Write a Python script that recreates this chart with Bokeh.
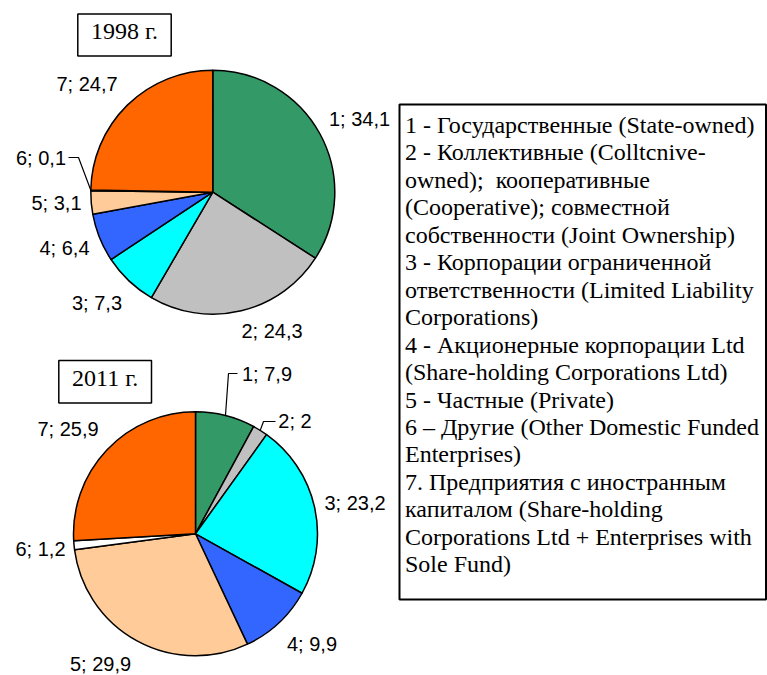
import numpy as np
from bokeh.plotting import figure
from bokeh.models import Range1d, ColumnDataSource
from bokeh.core.properties import value
from bokeh.embed import file_html
from bokeh.resources import INLINE

# ---- data ----
categories = ["1", "2", "3", "4", "5", "6", "7"]
values_1998 = [34.1, 24.3, 7.3, 6.4, 3.1, 0.1, 24.7]
values_2011 = [7.9, 2.0, 23.2, 9.9, 29.9, 1.2, 25.9]
titles = ["1998 г.", "2011 г."]
colors = ["#339966", "#C0C0C0", "#00FFFF", "#3366FF", "#FFCC99", "#FFFFFF", "#FF6600"]
legend_lines = [
    "1 - Государственные (State-owned)",
    "2 - Коллективные (Colltcnive-",
    "owned);\u00a0 кооперативные",
    "(Cooperative); совместной",
    "собственности (Joint Ownership)",
    "3 - Корпорации ограниченной",
    "ответственности (Limited Liability",
    "Corporations)",
    "4 - Акционерные корпорации Ltd",
    "(Share-holding Corporations Ltd)",
    "5 - Частные (Private)",
    "6 – Другие (Other Domestic Funded",
    "Enterprises)",
    "7. Предприятия с иностранным",
    "капиталом (Share-holding",
    "Corporations Ltd + Enterprises with",
    "Sole Fund)",
]

# ---- layout (image pixel coordinates; y measured from top) ----
W, H = 767, 675
def fy(y):
    return H - np.asarray(y, dtype=float)

R = 122
centers = [(212.3, 191.7), (195.0, 533.3)]
label_pos = [
    [(359, 118), (271.5, 330), (96.5, 302), (64, 247), (56, 202), (40.5, 157), (86.5, 83)],
    [(266.5, 373), (294.5, 420), (354.5, 502), (311.5, 643), (100, 663), (40, 548), (67.5, 428)],
]
# leader lines: (pie index, slice index, [elbow points in image coords])
leaders = [
    (0, 5, [(68, 157), (78, 157)]),
    (1, 0, [(237, 373), (228, 373)]),
    (1, 1, [(275, 421), (263, 421)]),
]
title_boxes = [(77.3, 170.7, 13.5, 55.5), (58.3, 151.0, 360.0, 402.5)]

SERIF = value("Liberation Serif")
SANS = value("Liberation Sans")

p = figure(width=W, height=H, x_range=Range1d(0, W), y_range=Range1d(0, H),
           output_backend="svg", toolbar_location=None, min_border=0,
           x_axis_location=None, y_axis_location=None)
p.grid.visible = False
p.outline_line_color = None
p.background_fill_color = "white"
p.border_fill_color = "white"

all_vals = [values_1998, values_2011]
mid_angles = []
for k, vals in enumerate(all_vals):
    v = np.array(vals, dtype=float)
    frac = v / v.sum()
    cum = np.concatenate([[0.0], np.cumsum(frac)])
    start = np.pi / 2 - 2 * np.pi * cum[:-1]
    end = np.pi / 2 - 2 * np.pi * cum[1:]
    mid_angles.append(np.pi / 2 - 2 * np.pi * (cum[:-1] + frac / 2))
    cx, cy = centers[k]
    src = ColumnDataSource(dict(x=[cx] * len(v), y=[fy(cy)] * len(v),
                                start=start, end=end, color=colors))
    p.wedge(x="x", y="y", radius=R, start_angle="start", end_angle="end",
            direction="clock", fill_color="color", line_color="black",
            line_width=1.5, source=src)
    labels = [f"{c}; {('%g' % val).replace('.', ',')}" for c, val in zip(categories, vals)]
    lx = [pt[0] for pt in label_pos[k]]
    ly = fy([pt[1] for pt in label_pos[k]])
    p.text(x=lx, y=ly, text=labels, text_font=SANS, text_font_size="20px",
           text_align="center", text_baseline="middle", text_color="black")

# leader lines
for k, s, elbows in leaders:
    cx, cy = centers[k]
    a = mid_angles[k][s]
    ex, ey = cx + R * np.cos(a), fy(cy) + R * np.sin(a)
    xs = [pt[0] for pt in elbows] + [ex]
    ys = list(fy([pt[1] for pt in elbows])) + [ey]
    p.line(xs, ys, line_color="black", line_width=1.2)

# title boxes
for (l, r, t, b), title in zip(title_boxes, titles):
    p.quad(left=l, right=r, top=fy(t), bottom=fy(b), fill_color="white",
           line_color="black", line_width=1.5)
    p.text(x=[(l + r) / 2], y=[fy((t + b) / 2 - 4)], text=[title], text_font=SERIF,
           text_font_size="24px", text_align="center", text_baseline="middle",
           text_color="black")

# legend box
p.quad(left=399, right=765.5, top=fy(104), bottom=fy(599), fill_color="white",
       line_color="black", line_width=2)
ly = fy(124.5 + 27.45 * np.arange(len(legend_lines)))
p.text(x=[404.5] * len(legend_lines), y=ly, text=legend_lines, text_font=SERIF,
       text_font_size="24px", text_align="left", text_baseline="alphabetic",
       text_color="black")

open("out.html", "w").write(file_html(p, INLINE))
